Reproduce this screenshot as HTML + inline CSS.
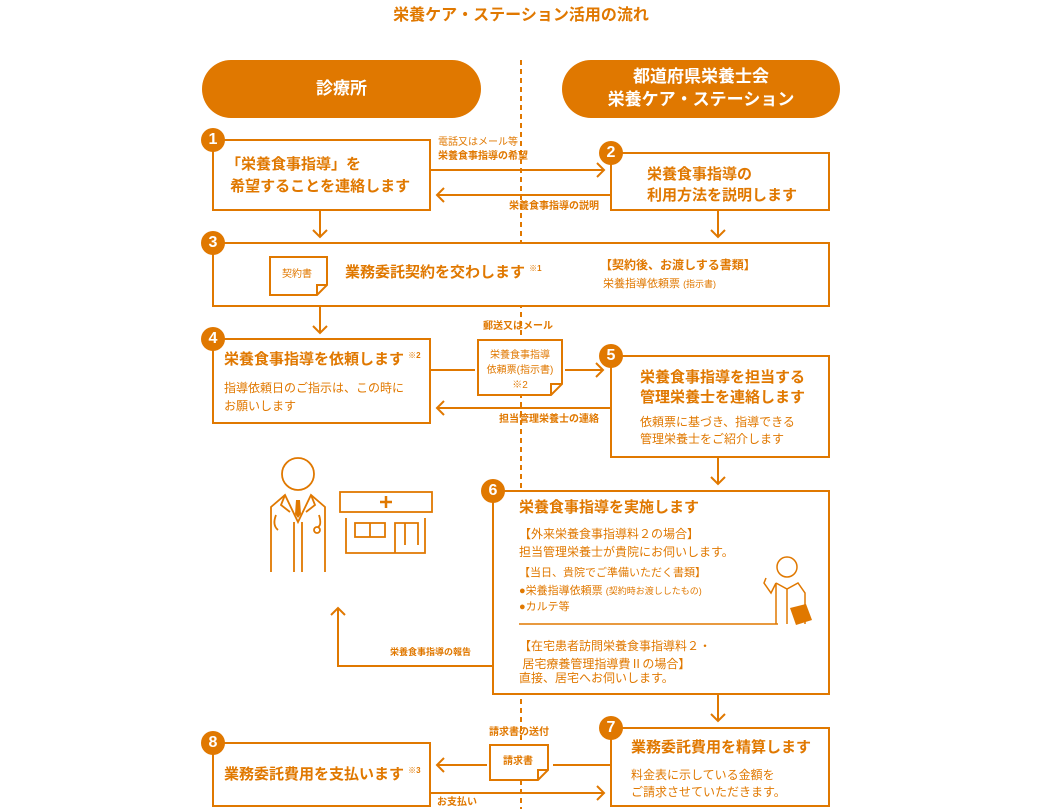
<!DOCTYPE html>
<html><head><meta charset="utf-8"><style>
body{margin:0;width:1042px;height:809px;background:#fff;overflow:hidden;position:relative;font-family:"Liberation Sans","Noto Sans CJK JP",sans-serif;color:#E07800}
.t{position:absolute;white-space:nowrap;line-height:1}
.b{font-weight:bold}
.badge{position:absolute;width:24px;height:24px;border-radius:50%;background:#E07800;color:#fff;font-weight:bold;font-size:16px;text-align:center;line-height:24px}
.pill{position:absolute;background:#E07800;color:#fff;font-weight:bold;border-radius:30px;text-align:center;display:flex;align-items:center;justify-content:center;font-size:17px;line-height:1.35}
</style></head><body>
<div class="t b" style="left:0;width:1042px;text-align:center;top:8px;font-size:16px">栄養ケア・ステーション活用の流れ</div>
<div class="pill" style="left:202px;top:60px;width:279px;height:58px">診療所</div>
<div class="pill" style="left:562px;top:60px;width:278px;height:58px">都道府県栄養士会<br>栄養ケア・ステーション</div>

<svg width="1042" height="809" style="position:absolute;left:0;top:0" fill="none" stroke="#E07800" stroke-width="2">
<line x1="521" y1="60" x2="521" y2="809" stroke-dasharray="5,4"/>
<g fill="#fff">
<rect x="213" y="140" width="217" height="70"/>
<rect x="611" y="153" width="218" height="57"/>
<rect x="213" y="243" width="616" height="63"/>
<rect x="213" y="339" width="217" height="84"/>
<rect x="611" y="356" width="218" height="101"/>
<rect x="493" y="491" width="336" height="203"/>
<rect x="611" y="728" width="218" height="78"/>
<rect x="213" y="743" width="217" height="63"/>
<path d="M270 257H327V285L317 295H270Z"/>
<path d="M478 340H562V384L551 395H478Z"/>
<path d="M490 745H548V770L538 780H490Z"/>
</g>
<path d="M327 285H317V295M562 384H551V395M548 770H538V780" />
<path d="M430 170H604M597 163L604 170L597 177"/>
<path d="M611 195H437M444 188L437 195L444 202"/>
<path d="M320 210V237M313 230L320 237L327 230"/>
<path d="M718 210V237M711 230L718 237L725 230"/>
<path d="M320 306V333M313 326L320 333L327 326"/>
<path d="M430 370H475M565 370H603M596 363L603 370L596 377"/>
<path d="M611 408H437M444 401L437 408L444 415"/>
<path d="M718 457V484M711 477L718 484L725 477"/>
<path d="M493 666H338V608M331 615L338 608L345 615"/>
<path d="M718 694V721M711 714L718 721L725 714"/>
<path d="M611 765H553M487 765H437M444 758L437 765L444 772"/>
<path d="M430 793H604M597 786L604 793L597 800"/>
<line x1="519" y1="624" x2="778" y2="624" stroke-width="1.5"/>
<g stroke-width="1.8">
<circle cx="298" cy="474" r="16"/>
<path d="M271 572V507L285 495L298 522L311 495L325 507V572"/>
<path d="M294 572V522M302 572V522"/>
<path d="M285 495L281 505L290 512M311 495L315 505L306 512"/>
<path d="M276 515Q272 525 278 530M319 515Q322 525 318 527"/>
<circle cx="317" cy="530" r="3"/>
</g>
<path d="M296 500H300L301 514L298 518L295 514Z" fill="#E07800" stroke="none"/>
<g stroke-width="1.8">
<rect x="340" y="492" width="92" height="20"/>
<path d="M346 518V553H425V518"/>
<rect x="355" y="523" width="30" height="14"/><line x1="370" y1="523" x2="370" y2="537"/>
<path d="M395 553V523H418V545M405 523V545"/>
</g>
<path d="M386 496V508M380 502H392" stroke-width="2.5"/>
<g stroke-width="1.5">
<circle cx="787" cy="567" r="10"/>
<path d="M776 583L787 589L798 583L805 593V624M776 583L771 593L764 583L766 578M776 583V624"/>
<path d="M787 589V624"/>
</g>
<path d="M790 608L806 604L812 620L796 625Z" fill="#E07800" stroke="none"/>
</svg>

<div class="badge" style="left:201px;top:128px">1</div>
<div class="badge" style="left:599px;top:141px">2</div>
<div class="badge" style="left:201px;top:231px">3</div>
<div class="badge" style="left:201px;top:327px">4</div>
<div class="badge" style="left:599px;top:344px">5</div>
<div class="badge" style="left:481px;top:479px">6</div>
<div class="badge" style="left:599px;top:716px">7</div>
<div class="badge" style="left:201px;top:731px">8</div>

<div class="t b" style="left:226px;top:154px;font-size:15px;line-height:22px">「栄養食事指導」を<br>&nbsp;希望することを連絡します</div>
<div class="t" style="left:438px;top:138px;font-size:10px">電話又はメール等</div>
<div class="t b" style="left:438px;top:152px;font-size:10px">栄養食事指導の希望</div>
<div class="t b" style="left:647px;top:164px;font-size:15px;line-height:21px">栄養食事指導の<br>利用方法を説明します</div>
<div class="t b" style="left:509px;top:202px;font-size:10px">栄養食事指導の説明</div>

<div class="t" style="left:282px;top:270px;font-size:10px">契約書</div>
<div class="t b" style="left:345px;top:265px;font-size:15px">業務委託契約を交わします <span style="font-size:8px;vertical-align:top">※1</span></div>
<div class="t b" style="left:600px;top:259px;font-size:12px">【契約後、お渡しする書類】</div>
<div class="t" style="left:603px;top:279px;font-size:11px">栄養指導依頼票 <span style="font-size:9px">(指示書)</span></div>

<div class="t b" style="left:224px;top:352px;font-size:15px">栄養食事指導を依頼します <span style="font-size:8px;vertical-align:top">※2</span></div>
<div class="t" style="left:224px;top:379px;font-size:12px;line-height:18px">指導依頼日のご指示は、この時に<br>お願いします</div>
<div class="t b" style="left:483px;top:322px;font-size:10px">郵送又はメール</div>
<div class="t" style="left:478px;top:348px;width:84px;text-align:center;font-size:10px;line-height:15px">栄養食事指導<br>依頼票(指示書)<br>※2</div>
<div class="t b" style="left:640px;top:368px;font-size:15px;line-height:20px">栄養食事指導を担当する<br>管理栄養士を連絡します</div>
<div class="t" style="left:640px;top:414px;font-size:12px;line-height:17px">依頼票に基づき、指導できる<br>管理栄養士をご紹介します</div>
<div class="t b" style="left:499px;top:415px;font-size:10px">担当管理栄養士の連絡</div>

<div class="t b" style="left:519px;top:500px;font-size:15px">栄養食事指導を実施します</div>
<div class="t" style="left:519px;top:528px;font-size:12px">【外来栄養食事指導料２の場合】</div>
<div class="t" style="left:519px;top:546px;font-size:12px">担当管理栄養士が貴院にお伺いします。</div>
<div class="t" style="left:519px;top:568px;font-size:11px">【当日、貴院でご準備いただく書類】</div>
<div class="t" style="left:519px;top:586px;font-size:11px">●栄養指導依頼票 <span style="font-size:9px">(契約時お渡ししたもの)</span></div>
<div class="t" style="left:519px;top:602px;font-size:11px">●カルテ等</div>
<div class="t" style="left:519px;top:637px;font-size:12px;line-height:18px">【在宅患者訪問栄養食事指導料２・<br>&nbsp;居宅療養管理指導費Ⅱの場合】</div>
<div class="t" style="left:519px;top:672px;font-size:12px">直接、居宅へお伺いします。</div>
<div class="t b" style="left:390px;top:648px;font-size:9px">栄養食事指導の報告</div>

<div class="t b" style="left:489px;top:728px;font-size:10px">請求書の送付</div>
<div class="t b" style="left:503px;top:757px;font-size:10px">請求書</div>
<div class="t b" style="left:631px;top:740px;font-size:15px">業務委託費用を精算します</div>
<div class="t" style="left:631px;top:767px;font-size:12px;line-height:17px">料金表に示している金額を<br>ご請求させていただきます。</div>
<div class="t b" style="left:224px;top:767px;font-size:15px">業務委託費用を支払います <span style="font-size:8px;vertical-align:top">※3</span></div>
<div class="t b" style="left:437px;top:798px;font-size:10px">お支払い</div>
</body></html>
